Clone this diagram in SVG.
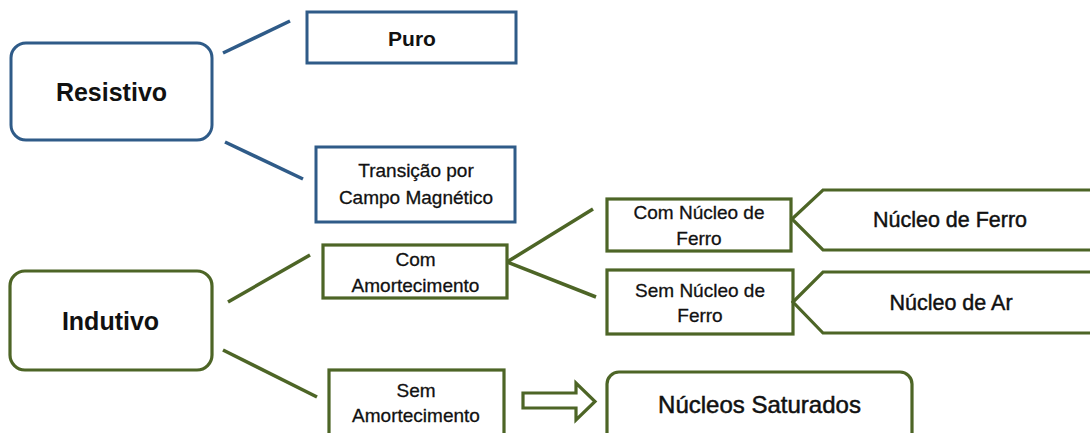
<svg xmlns="http://www.w3.org/2000/svg" width="1090" height="433" viewBox="0 0 1090 433">
<style>
.b{fill:#fff;stroke:#2f5b88;stroke-width:3}
.g{fill:#fff;stroke:#4d6526;stroke-width:3.2}
.lb{stroke:#2f5b88;stroke-width:3.5;fill:none}
.lg{stroke:#4d6526;stroke-width:3.5;fill:none}
text{font-family:"Liberation Sans",Arial,sans-serif;fill:#111;text-anchor:middle}
.big{font-size:25px;font-weight:bold}
.s{font-size:19px;stroke:#111;stroke-width:0.3}
.m{font-size:21.5px;stroke:#111;stroke-width:0.45}
.xl{font-size:24px;stroke:#111;stroke-width:0.5}
</style>
<rect width="1090" height="433" fill="#fff"/>
<g id="connectors">
<line class="lb" x1="223" y1="53" x2="290" y2="21"/>
<line class="lb" x1="225" y1="142" x2="303" y2="179"/>
<line class="lg" x1="228" y1="302" x2="310" y2="255"/>
<line class="lg" x1="223" y1="350" x2="317" y2="397"/>
<line class="lg" x1="507" y1="262" x2="593" y2="209"/>
<line class="lg" x1="507" y1="262" x2="596" y2="297"/>
<path class="g" d="M523,393 H576 V383 L595,401.5 L576,420 V408 H523 Z"/>
</g>
<g id="resistivo">
<rect class="b" x="11" y="43" width="201" height="97" rx="15"/>
<text class="big" x="111.5" y="101">Resistivo</text>
</g>
<g id="puro">
<rect class="b" x="307" y="12" width="209" height="51"/>
<text x="412" y="46" style="font-size:21px;font-weight:bold">Puro</text>
</g>
<g id="transicao">
<rect class="b" x="316" y="147" width="199" height="75"/>
<text class="s" x="416" y="177">Transição por</text>
<text class="s" x="416" y="204">Campo Magnético</text>
</g>
<g id="indutivo">
<rect class="g" x="10" y="271" width="202" height="99" rx="15"/>
<text class="big" x="110.5" y="330">Indutivo</text>
</g>
<g id="com-amortecimento">
<rect class="g" x="323" y="245" width="184" height="53"/>
<text class="s" x="415.5" y="266">Com</text>
<text class="s" x="415.5" y="292">Amortecimento</text>
</g>
<g id="sem-amortecimento">
<rect class="g" x="329" y="370" width="175" height="80"/>
<text class="s" x="416" y="397">Sem</text>
<text class="s" x="416" y="422">Amortecimento</text>
</g>
<g id="com-nucleo">
<rect class="g" x="607" y="199" width="184" height="52"/>
<text class="s" x="699" y="219">Com Núcleo de</text>
<text class="s" x="699" y="245">Ferro</text>
</g>
<g id="sem-nucleo">
<rect class="g" x="607" y="270" width="186" height="64"/>
<text class="s" x="700" y="297">Sem Núcleo de</text>
<text class="s" x="700" y="322">Ferro</text>
</g>
<g id="nucleo-ferro">
<polygon class="g" points="792,219 823,190 1100,190 1100,250 823,250"/>
<text class="m" x="950" y="227">Núcleo de Ferro</text>
</g>
<g id="nucleo-ar">
<polygon class="g" points="793,302 823,272 1100,272 1100,333 823,333"/>
<text class="m" x="951" y="310">Núcleo de Ar</text>
</g>
<g id="nucleos-saturados">
<rect class="g" x="607" y="372" width="305" height="80" rx="12"/>
<text class="xl" x="759.5" y="413">Núcleos Saturados</text>
</g>
</svg>
